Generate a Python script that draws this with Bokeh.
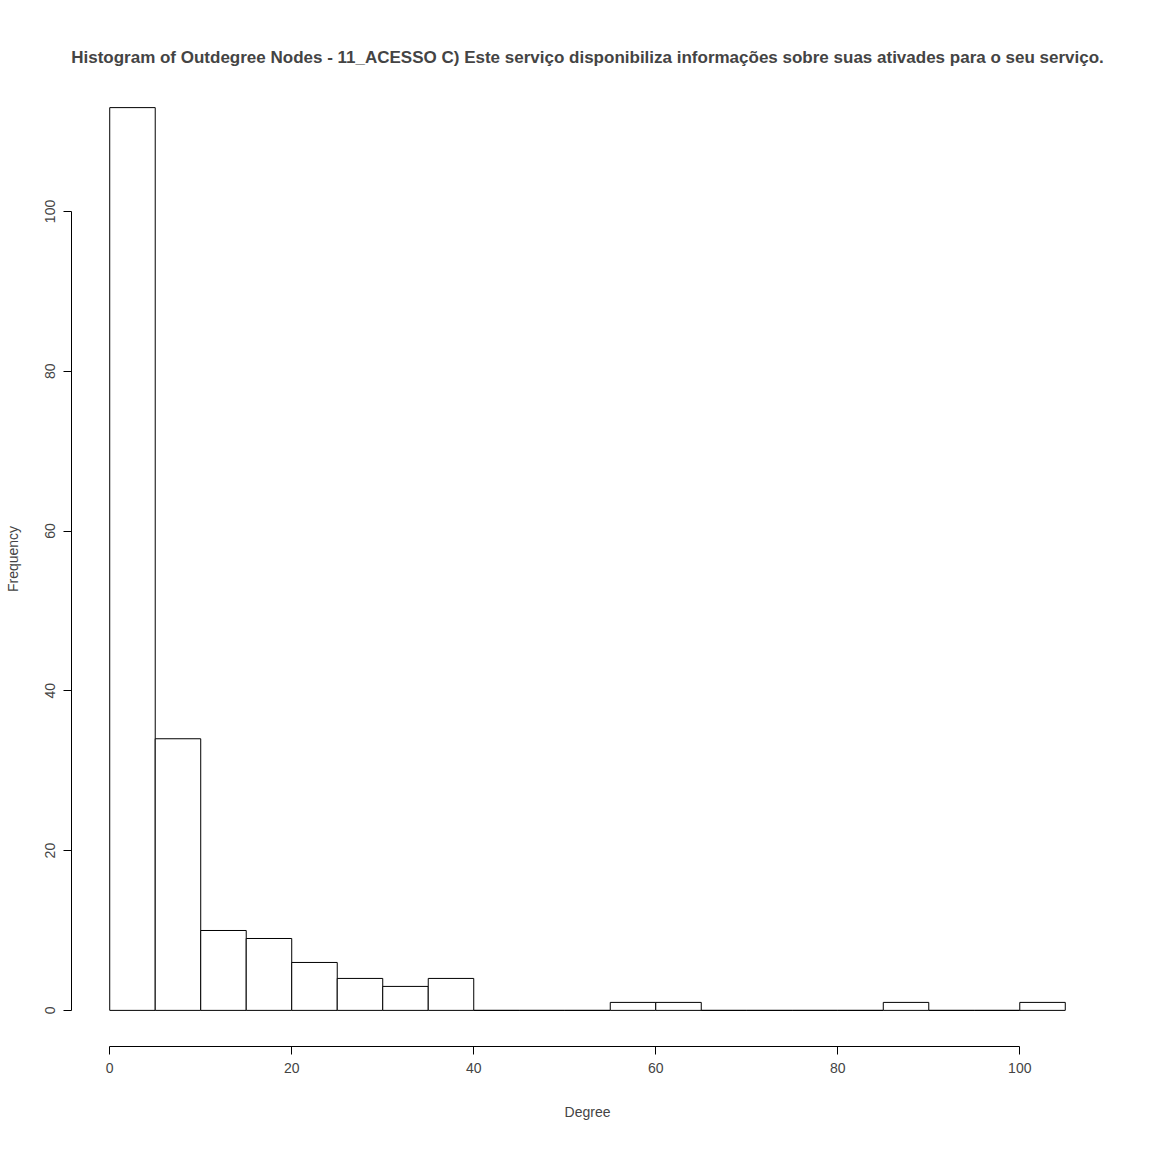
from bokeh.plotting import figure
from bokeh.embed import file_html
from bokeh.resources import INLINE
from bokeh.models import Range1d, FixedTicker, Title

bin_left = list(range(0, 105, 5))
counts = [113, 34, 10, 9, 6, 4, 3, 4, 0, 0, 0, 1, 1, 0, 0, 0, 0, 1, 0, 0, 1]
bin_right = [b + 5 for b in bin_left]
title = "Histogram of Outdegree Nodes - 11_ACESSO C) Este serviço disponibiliza informações sobre suas ativades para o seu serviço."

p = figure(width=1136, height=1136, output_backend="svg", toolbar_location=None,
           x_range=Range1d(-4.2, 109.2), y_range=Range1d(-4.52, 117.52),
           min_border_left=71, min_border_top=71, min_border_right=33, min_border_bottom=90)
p.title = None
p.add_layout(Title(text=title, align="center", text_font="Liberation Sans",
                   text_font_size="17px", text_font_style="bold", offset=-6), "above")
p.quad(left=bin_left, right=bin_right, bottom=0, top=counts,
       fill_color="white", line_color="black", line_width=1)
p.grid.visible = False
p.outline_line_color = None
for ax, b in ((p.xaxis[0], (0, 100)), (p.yaxis[0], (0, 100))):
    ax.bounds = b
    ax.ticker = FixedTicker(ticks=[0, 20, 40, 60, 80, 100])
    ax.minor_tick_line_color = None
    ax.major_tick_out = 8
    ax.major_tick_in = 0
    ax.major_label_text_font = "Liberation Sans"
    ax.major_label_text_font_size = "14px"
    ax.axis_label_text_font = "Liberation Sans"
    ax.axis_label_text_font_size = "14px"
    ax.axis_label_text_font_style = "normal"
    ax.axis_line_color = "black"
    ax.major_tick_line_color = "black"
p.xaxis.axis_label = "Degree"
p.yaxis.axis_label = "Frequency"
p.yaxis.major_label_orientation = "vertical"
p.xaxis.major_label_standoff = 8
p.xaxis.axis_label_standoff = 28
p.yaxis.major_label_standoff = 8
p.yaxis.axis_label_standoff = 22

open("out.html", "w").write(file_html(p, INLINE))
